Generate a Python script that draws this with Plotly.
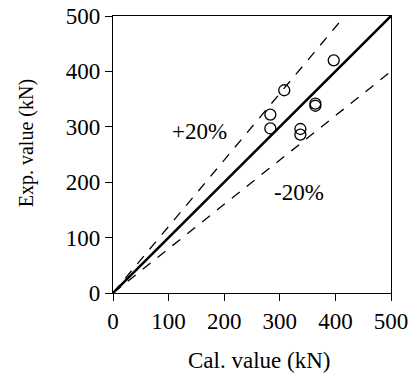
import plotly.graph_objects as go

cal_value = [397, 308, 283, 283, 364, 364, 337, 337]
exp_value = [420, 366, 322, 297, 342, 338, 296, 286]

axis_max = 500
ref_ratios = [1.0, 1.2, 0.8]
ref_labels = ["", "+20%", "-20%"]
label_pos_x = [None, 156, 335]
label_pos_y = [None, 291, 181]

FONT = "Liberation Serif"

fig = go.Figure()

for r in ref_ratios:
    x_end = min(axis_max, axis_max / r)
    fig.add_trace(go.Scatter(
        x=[0, x_end], y=[0, r * x_end], mode="lines",
        line=dict(color="black", width=2.6 if r == 1.0 else 1.3,
                  dash="solid" if r == 1.0 else "10px,9px"),
        showlegend=False, hoverinfo="skip"))

fig.add_trace(go.Scatter(
    x=cal_value, y=exp_value, mode="markers",
    marker=dict(symbol="circle-open", size=11, color="black", line=dict(width=1.3)),
    showlegend=False))

for lab, lx, ly in zip(ref_labels, label_pos_x, label_pos_y):
    if lab:
        fig.add_annotation(x=lx, y=ly, text=lab, showarrow=False,
                           font=dict(family=FONT, size=23, color="black"))

# axis titles
fig.add_annotation(xref="paper", yref="paper", x=0.524, y=-0.243,
                   text="Cal. value (kN)", showarrow=False,
                   xanchor="center", yanchor="middle",
                   font=dict(family=FONT, size=23, color="black"))
fig.add_annotation(xref="paper", yref="paper", x=-0.31, y=0.54,
                   text="Exp. value (kN)", showarrow=False, textangle=-90,
                   xanchor="center", yanchor="middle",
                   font=dict(family=FONT, size=20, color="black"))

axis_common = dict(
    range=[0, axis_max], tickvals=[0, 100, 200, 300, 400, 500],
    showgrid=False, zeroline=False, showline=True, linecolor="black", linewidth=1.3,
    mirror=True, ticks="outside", ticklen=7, tickwidth=1.3, tickcolor="black",
    tickfont=dict(family=FONT, size=23, color="black"), automargin=False,
)

fig.update_layout(
    width=412, height=376,
    margin=dict(l=113, r=21, t=16, b=83),
    paper_bgcolor="white", plot_bgcolor="white",
    font=dict(family=FONT, color="black"),
    xaxis=dict(**axis_common),
    yaxis=dict(**axis_common),
)

fig.write_html("out.html")
